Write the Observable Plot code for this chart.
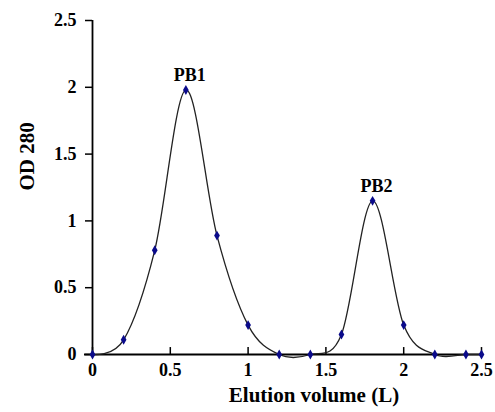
<!DOCTYPE html>
<html><head><meta charset="utf-8">
<script src="https://cdn.jsdelivr.net/npm/d3@7"></script>
<script src="https://cdn.jsdelivr.net/npm/@observablehq/plot@0.6"></script>
<style>body{margin:0;background:#fff}</style>
</head><body><div id="chart"></div>
<script>
const volume = [0, 0.2, 0.4, 0.6, 0.8, 1.0, 1.2, 1.4, 1.6, 1.8, 2.0, 2.2, 2.4, 2.5];
const od280  = [0, 0.11, 0.78, 1.98, 0.89, 0.22, 0, 0, 0.15, 1.15, 0.22, 0, 0, 0];
const peakLabels = ["PB1", "PB2"];
const peakX = [0.6, 1.8];
const peakY = [1.98, 1.15];
const xTicks = [0, 0.5, 1, 1.5, 2, 2.5];
const yTicks = [0, 0.5, 1, 1.5, 2, 2.5];

const data = volume.map((v, i) => ({v, od: od280[i]}));
const peaks = peakLabels.map((t, i) => ({t, x: peakX[i], y: peakY[i]}));
const font = "'Liberation Serif', 'Times New Roman', serif";

const chart = Plot.plot({
  width: 495, height: 412,
  marginLeft: 92, marginRight: 14, marginTop: 20, marginBottom: 58,
  style: {fontFamily: font, fontWeight: "bold", fontSize: "18px", color: "#000", background: "#fff"},
  x: {domain: [0, 2.5]},
  y: {domain: [0, 2.5]},
  marks: [
    Plot.axisY({ticks: yTicks, tickSize: 7, tickPadding: 9, tickFormat: d => String(d), label: null, fontSize: 18, fontWeight: "bold", stroke: "#000", strokeWidth: 1.5}),
    Plot.axisX({ticks: xTicks, tickSize: 0, tickPadding: 9, tickFormat: d => String(d), label: null, fontSize: 18, fontWeight: "bold"}),
    // inward tick marks on the x axis (about 7px tall)
    Plot.ruleX(xTicks, {x: d => d, y1: () => 0, y2: () => 0.052, stroke: "#000", strokeWidth: 1.5}),
    Plot.ruleX([0], {stroke: "#000", strokeWidth: 1.8}),
    Plot.ruleY([0], {stroke: "#000", strokeWidth: 1.8, insetLeft: -8}),
    Plot.line(data, {x: "v", y: "od", curve: "cardinal", tension: 0, stroke: "#222", strokeWidth: 1.3}),
    Plot.dot(data, {x: "v", y: "od", symbol: "diamond", r: 3, fill: "#0a0a8a", stroke: "none"}),
    Plot.text(peaks, {x: "x", y: "y", text: "t", dx: 4, dy: -15, fontSize: 18, fontWeight: "bold", fill: "#000"}),
    Plot.text(["OD 280"], {frameAnchor: "left", dx: -65, dy: 3, rotate: -90, fontSize: 21, fontWeight: "bold", fill: "#000"}),
    Plot.text(["Elution volume (L)"], {frameAnchor: "bottom", dx: 27, dy: 47, fontSize: 21, fontWeight: "bold", fill: "#000"})
  ]
});
document.getElementById("chart").appendChild(chart);
</script>
</body></html>
